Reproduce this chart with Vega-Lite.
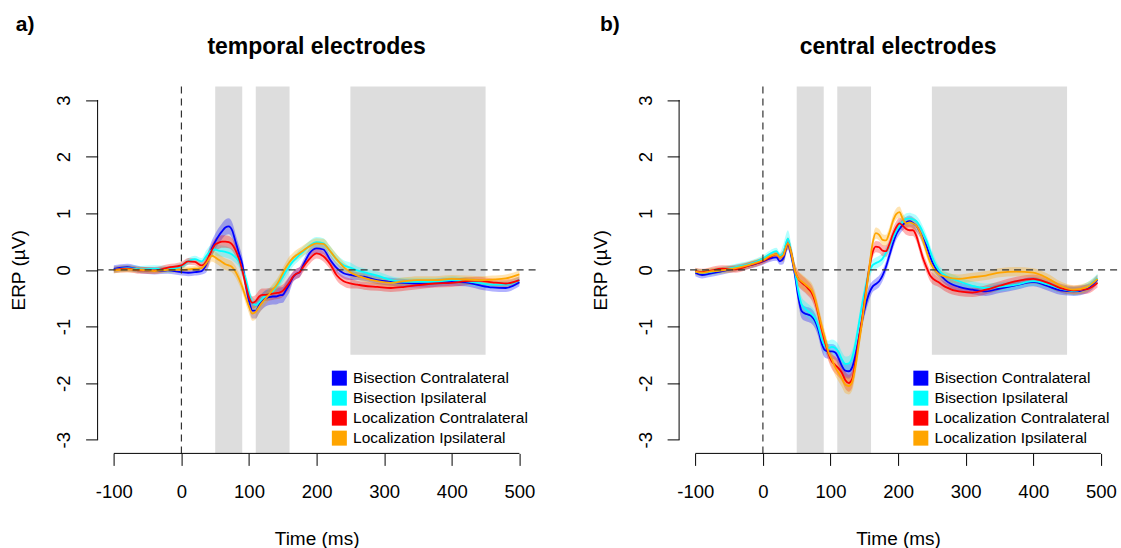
{
"$schema": "https://vega.github.io/schema/vega-lite/v6.json",
"padding": {"left": 8.6, "top": 14.4, "right": 0, "bottom": 0},
"background": "white",
"config": {
  "view": {"stroke": null},
  "font": "Liberation Sans",
  "axis": {"domain": false, "grid": false, "ticks": true, "tickColor": "black", "tickSize": 12, "tickWidth": 1, "labelFont": "Liberation Sans", "labelFontSize": 18.5, "labelColor": "black", "titleFont": "Liberation Sans", "titleFontSize": 19, "titleFontWeight": "normal", "titleColor": "black", "labelFlush": false, "labelOverlap": false, "labelExpr": "'' + datum.value"}
},
"datasets": {
"windows": [
 {"start": 50, "end": 90, "low": -3.24, "high": 3.24},
 {"start": 110, "end": 160, "low": -3.24, "high": 3.24},
 {"start": 250, "end": 450, "low": -1.5, "high": 3.24}
],
"erp_a": [
{"condition":"Bisection Contralateral","t":-100,"v":0.02,"lo":-0.04,"hi":0.08},
{"condition":"Bisection Contralateral","t":-80,"v":0.05,"lo":-0.01,"hi":0.11},
{"condition":"Bisection Contralateral","t":-60,"v":0.0,"lo":-0.06,"hi":0.06},
{"condition":"Bisection Contralateral","t":-40,"v":-0.02,"lo":-0.08,"hi":0.04},
{"condition":"Bisection Contralateral","t":-20,"v":-0.01,"lo":-0.07,"hi":0.05},
{"condition":"Bisection Contralateral","t":0,"v":-0.04,"lo":-0.1,"hi":0.02},
{"condition":"Bisection Contralateral","t":10,"v":-0.05,"lo":-0.11,"hi":0.01},
{"condition":"Bisection Contralateral","t":20,"v":-0.04,"lo":-0.1,"hi":0.02},
{"condition":"Bisection Contralateral","t":30,"v":-0.02,"lo":-0.08,"hi":0.04},
{"condition":"Bisection Contralateral","t":37,"v":0.1,"lo":-0.04,"hi":0.24},
{"condition":"Bisection Contralateral","t":45,"v":0.38,"lo":0.24,"hi":0.52},
{"condition":"Bisection Contralateral","t":50,"v":0.5,"lo":0.36,"hi":0.64},
{"condition":"Bisection Contralateral","t":55,"v":0.6,"lo":0.46,"hi":0.74},
{"condition":"Bisection Contralateral","t":60,"v":0.68,"lo":0.54,"hi":0.82},
{"condition":"Bisection Contralateral","t":65,"v":0.75,"lo":0.61,"hi":0.89},
{"condition":"Bisection Contralateral","t":70,"v":0.77,"lo":0.63,"hi":0.91},
{"condition":"Bisection Contralateral","t":75,"v":0.7,"lo":0.56,"hi":0.84},
{"condition":"Bisection Contralateral","t":80,"v":0.5,"lo":0.36,"hi":0.64},
{"condition":"Bisection Contralateral","t":85,"v":0.3,"lo":0.16,"hi":0.44},
{"condition":"Bisection Contralateral","t":90,"v":0.1,"lo":-0.04,"hi":0.24},
{"condition":"Bisection Contralateral","t":95,"v":-0.25,"lo":-0.39,"hi":-0.11},
{"condition":"Bisection Contralateral","t":100,"v":-0.55,"lo":-0.69,"hi":-0.41},
{"condition":"Bisection Contralateral","t":105,"v":-0.72,"lo":-0.86,"hi":-0.58},
{"condition":"Bisection Contralateral","t":110,"v":-0.72,"lo":-0.86,"hi":-0.58},
{"condition":"Bisection Contralateral","t":115,"v":-0.62,"lo":-0.76,"hi":-0.48},
{"condition":"Bisection Contralateral","t":120,"v":-0.55,"lo":-0.69,"hi":-0.41},
{"condition":"Bisection Contralateral","t":125,"v":-0.5,"lo":-0.64,"hi":-0.36},
{"condition":"Bisection Contralateral","t":130,"v":-0.48,"lo":-0.62,"hi":-0.34},
{"condition":"Bisection Contralateral","t":135,"v":-0.47,"lo":-0.61,"hi":-0.33},
{"condition":"Bisection Contralateral","t":140,"v":-0.47,"lo":-0.61,"hi":-0.33},
{"condition":"Bisection Contralateral","t":145,"v":-0.45,"lo":-0.59,"hi":-0.31},
{"condition":"Bisection Contralateral","t":150,"v":-0.44,"lo":-0.58,"hi":-0.3},
{"condition":"Bisection Contralateral","t":155,"v":-0.35,"lo":-0.49,"hi":-0.21},
{"condition":"Bisection Contralateral","t":160,"v":-0.25,"lo":-0.39,"hi":-0.11},
{"condition":"Bisection Contralateral","t":165,"v":-0.13,"lo":-0.22,"hi":-0.04},
{"condition":"Bisection Contralateral","t":170,"v":-0.07,"lo":-0.16,"hi":0.02},
{"condition":"Bisection Contralateral","t":175,"v":-0.04,"lo":-0.13,"hi":0.05},
{"condition":"Bisection Contralateral","t":180,"v":0.08,"lo":-0.01,"hi":0.17},
{"condition":"Bisection Contralateral","t":190,"v":0.3,"lo":0.21,"hi":0.39},
{"condition":"Bisection Contralateral","t":200,"v":0.38,"lo":0.29,"hi":0.47},
{"condition":"Bisection Contralateral","t":210,"v":0.36,"lo":0.27,"hi":0.45},
{"condition":"Bisection Contralateral","t":220,"v":0.18,"lo":0.09,"hi":0.27},
{"condition":"Bisection Contralateral","t":230,"v":0.03,"lo":-0.06,"hi":0.12},
{"condition":"Bisection Contralateral","t":240,"v":-0.06,"lo":-0.15,"hi":0.03},
{"condition":"Bisection Contralateral","t":250,"v":-0.09,"lo":-0.18,"hi":0.0},
{"condition":"Bisection Contralateral","t":260,"v":-0.11,"lo":-0.18,"hi":-0.04},
{"condition":"Bisection Contralateral","t":270,"v":-0.12,"lo":-0.19,"hi":-0.05},
{"condition":"Bisection Contralateral","t":290,"v":-0.18,"lo":-0.25,"hi":-0.11},
{"condition":"Bisection Contralateral","t":310,"v":-0.21,"lo":-0.28,"hi":-0.14},
{"condition":"Bisection Contralateral","t":330,"v":-0.23,"lo":-0.3,"hi":-0.16},
{"condition":"Bisection Contralateral","t":350,"v":-0.24,"lo":-0.31,"hi":-0.17},
{"condition":"Bisection Contralateral","t":375,"v":-0.23,"lo":-0.3,"hi":-0.16},
{"condition":"Bisection Contralateral","t":400,"v":-0.21,"lo":-0.28,"hi":-0.14},
{"condition":"Bisection Contralateral","t":420,"v":-0.22,"lo":-0.29,"hi":-0.15},
{"condition":"Bisection Contralateral","t":440,"v":-0.27,"lo":-0.34,"hi":-0.2},
{"condition":"Bisection Contralateral","t":460,"v":-0.31,"lo":-0.38,"hi":-0.24},
{"condition":"Bisection Contralateral","t":480,"v":-0.32,"lo":-0.39,"hi":-0.25},
{"condition":"Bisection Contralateral","t":500,"v":-0.22,"lo":-0.29,"hi":-0.15},
{"condition":"Bisection Ipsilateral","t":-100,"v":0.0,"lo":-0.06,"hi":0.06},
{"condition":"Bisection Ipsilateral","t":-80,"v":0.03,"lo":-0.03,"hi":0.09},
{"condition":"Bisection Ipsilateral","t":-60,"v":0.01,"lo":-0.05,"hi":0.07},
{"condition":"Bisection Ipsilateral","t":-40,"v":0.02,"lo":-0.04,"hi":0.08},
{"condition":"Bisection Ipsilateral","t":-20,"v":0.01,"lo":-0.05,"hi":0.07},
{"condition":"Bisection Ipsilateral","t":0,"v":0.06,"lo":0.0,"hi":0.12},
{"condition":"Bisection Ipsilateral","t":10,"v":0.15,"lo":0.09,"hi":0.21},
{"condition":"Bisection Ipsilateral","t":20,"v":0.19,"lo":0.13,"hi":0.25},
{"condition":"Bisection Ipsilateral","t":30,"v":0.15,"lo":0.09,"hi":0.21},
{"condition":"Bisection Ipsilateral","t":37,"v":0.25,"lo":0.15,"hi":0.35},
{"condition":"Bisection Ipsilateral","t":45,"v":0.35,"lo":0.25,"hi":0.45},
{"condition":"Bisection Ipsilateral","t":50,"v":0.36,"lo":0.26,"hi":0.46},
{"condition":"Bisection Ipsilateral","t":55,"v":0.34,"lo":0.24,"hi":0.44},
{"condition":"Bisection Ipsilateral","t":60,"v":0.33,"lo":0.23,"hi":0.43},
{"condition":"Bisection Ipsilateral","t":65,"v":0.32,"lo":0.22,"hi":0.42},
{"condition":"Bisection Ipsilateral","t":70,"v":0.3,"lo":0.2,"hi":0.4},
{"condition":"Bisection Ipsilateral","t":75,"v":0.27,"lo":0.17,"hi":0.37},
{"condition":"Bisection Ipsilateral","t":80,"v":0.22,"lo":0.12,"hi":0.32},
{"condition":"Bisection Ipsilateral","t":85,"v":0.15,"lo":0.05,"hi":0.25},
{"condition":"Bisection Ipsilateral","t":90,"v":0.0,"lo":-0.1,"hi":0.1},
{"condition":"Bisection Ipsilateral","t":95,"v":-0.15,"lo":-0.25,"hi":-0.05},
{"condition":"Bisection Ipsilateral","t":100,"v":-0.4,"lo":-0.5,"hi":-0.3},
{"condition":"Bisection Ipsilateral","t":105,"v":-0.58,"lo":-0.68,"hi":-0.48},
{"condition":"Bisection Ipsilateral","t":110,"v":-0.62,"lo":-0.72,"hi":-0.52},
{"condition":"Bisection Ipsilateral","t":115,"v":-0.57,"lo":-0.67,"hi":-0.47},
{"condition":"Bisection Ipsilateral","t":120,"v":-0.5,"lo":-0.6,"hi":-0.4},
{"condition":"Bisection Ipsilateral","t":125,"v":-0.45,"lo":-0.55,"hi":-0.35},
{"condition":"Bisection Ipsilateral","t":130,"v":-0.42,"lo":-0.52,"hi":-0.32},
{"condition":"Bisection Ipsilateral","t":135,"v":-0.38,"lo":-0.48,"hi":-0.28},
{"condition":"Bisection Ipsilateral","t":140,"v":-0.3,"lo":-0.4,"hi":-0.2},
{"condition":"Bisection Ipsilateral","t":145,"v":-0.22,"lo":-0.32,"hi":-0.12},
{"condition":"Bisection Ipsilateral","t":150,"v":-0.12,"lo":-0.22,"hi":-0.02},
{"condition":"Bisection Ipsilateral","t":155,"v":-0.02,"lo":-0.12,"hi":0.08},
{"condition":"Bisection Ipsilateral","t":160,"v":0.07,"lo":-0.03,"hi":0.17},
{"condition":"Bisection Ipsilateral","t":165,"v":0.15,"lo":0.06,"hi":0.24},
{"condition":"Bisection Ipsilateral","t":170,"v":0.21,"lo":0.12,"hi":0.3},
{"condition":"Bisection Ipsilateral","t":175,"v":0.27,"lo":0.18,"hi":0.36},
{"condition":"Bisection Ipsilateral","t":180,"v":0.32,"lo":0.23,"hi":0.41},
{"condition":"Bisection Ipsilateral","t":190,"v":0.43,"lo":0.34,"hi":0.52},
{"condition":"Bisection Ipsilateral","t":200,"v":0.49,"lo":0.4,"hi":0.58},
{"condition":"Bisection Ipsilateral","t":210,"v":0.47,"lo":0.38,"hi":0.56},
{"condition":"Bisection Ipsilateral","t":220,"v":0.33,"lo":0.24,"hi":0.42},
{"condition":"Bisection Ipsilateral","t":230,"v":0.18,"lo":0.09,"hi":0.27},
{"condition":"Bisection Ipsilateral","t":240,"v":0.08,"lo":-0.01,"hi":0.17},
{"condition":"Bisection Ipsilateral","t":250,"v":0.04,"lo":-0.05,"hi":0.13},
{"condition":"Bisection Ipsilateral","t":260,"v":-0.01,"lo":-0.08,"hi":0.06},
{"condition":"Bisection Ipsilateral","t":270,"v":-0.04,"lo":-0.11,"hi":0.03},
{"condition":"Bisection Ipsilateral","t":290,"v":-0.1,"lo":-0.17,"hi":-0.03},
{"condition":"Bisection Ipsilateral","t":310,"v":-0.18,"lo":-0.25,"hi":-0.11},
{"condition":"Bisection Ipsilateral","t":330,"v":-0.21,"lo":-0.28,"hi":-0.14},
{"condition":"Bisection Ipsilateral","t":350,"v":-0.21,"lo":-0.28,"hi":-0.14},
{"condition":"Bisection Ipsilateral","t":375,"v":-0.21,"lo":-0.28,"hi":-0.14},
{"condition":"Bisection Ipsilateral","t":400,"v":-0.18,"lo":-0.25,"hi":-0.11},
{"condition":"Bisection Ipsilateral","t":420,"v":-0.2,"lo":-0.27,"hi":-0.13},
{"condition":"Bisection Ipsilateral","t":440,"v":-0.23,"lo":-0.3,"hi":-0.16},
{"condition":"Bisection Ipsilateral","t":460,"v":-0.26,"lo":-0.33,"hi":-0.19},
{"condition":"Bisection Ipsilateral","t":480,"v":-0.26,"lo":-0.33,"hi":-0.19},
{"condition":"Bisection Ipsilateral","t":500,"v":-0.18,"lo":-0.25,"hi":-0.11},
{"condition":"Localization Contralateral","t":-100,"v":0.0,"lo":-0.06,"hi":0.06},
{"condition":"Localization Contralateral","t":-80,"v":0.02,"lo":-0.04,"hi":0.08},
{"condition":"Localization Contralateral","t":-60,"v":-0.01,"lo":-0.07,"hi":0.05},
{"condition":"Localization Contralateral","t":-40,"v":-0.01,"lo":-0.07,"hi":0.05},
{"condition":"Localization Contralateral","t":-20,"v":0.04,"lo":-0.02,"hi":0.1},
{"condition":"Localization Contralateral","t":0,"v":0.08,"lo":0.02,"hi":0.14},
{"condition":"Localization Contralateral","t":10,"v":0.15,"lo":0.09,"hi":0.21},
{"condition":"Localization Contralateral","t":20,"v":0.14,"lo":0.08,"hi":0.2},
{"condition":"Localization Contralateral","t":30,"v":0.08,"lo":0.02,"hi":0.14},
{"condition":"Localization Contralateral","t":37,"v":0.15,"lo":0.04,"hi":0.26},
{"condition":"Localization Contralateral","t":45,"v":0.35,"lo":0.24,"hi":0.46},
{"condition":"Localization Contralateral","t":50,"v":0.45,"lo":0.34,"hi":0.56},
{"condition":"Localization Contralateral","t":55,"v":0.48,"lo":0.37,"hi":0.59},
{"condition":"Localization Contralateral","t":60,"v":0.5,"lo":0.39,"hi":0.61},
{"condition":"Localization Contralateral","t":65,"v":0.5,"lo":0.39,"hi":0.61},
{"condition":"Localization Contralateral","t":70,"v":0.49,"lo":0.38,"hi":0.6},
{"condition":"Localization Contralateral","t":75,"v":0.45,"lo":0.34,"hi":0.56},
{"condition":"Localization Contralateral","t":80,"v":0.35,"lo":0.24,"hi":0.46},
{"condition":"Localization Contralateral","t":85,"v":0.2,"lo":0.09,"hi":0.31},
{"condition":"Localization Contralateral","t":90,"v":0.0,"lo":-0.11,"hi":0.11},
{"condition":"Localization Contralateral","t":95,"v":-0.25,"lo":-0.36,"hi":-0.14},
{"condition":"Localization Contralateral","t":100,"v":-0.48,"lo":-0.59,"hi":-0.37},
{"condition":"Localization Contralateral","t":105,"v":-0.58,"lo":-0.69,"hi":-0.47},
{"condition":"Localization Contralateral","t":110,"v":-0.55,"lo":-0.66,"hi":-0.44},
{"condition":"Localization Contralateral","t":115,"v":-0.47,"lo":-0.58,"hi":-0.36},
{"condition":"Localization Contralateral","t":120,"v":-0.44,"lo":-0.55,"hi":-0.33},
{"condition":"Localization Contralateral","t":125,"v":-0.44,"lo":-0.55,"hi":-0.33},
{"condition":"Localization Contralateral","t":130,"v":-0.43,"lo":-0.54,"hi":-0.32},
{"condition":"Localization Contralateral","t":135,"v":-0.42,"lo":-0.53,"hi":-0.31},
{"condition":"Localization Contralateral","t":140,"v":-0.41,"lo":-0.52,"hi":-0.3},
{"condition":"Localization Contralateral","t":145,"v":-0.4,"lo":-0.51,"hi":-0.29},
{"condition":"Localization Contralateral","t":150,"v":-0.37,"lo":-0.48,"hi":-0.26},
{"condition":"Localization Contralateral","t":155,"v":-0.3,"lo":-0.41,"hi":-0.19},
{"condition":"Localization Contralateral","t":160,"v":-0.22,"lo":-0.33,"hi":-0.11},
{"condition":"Localization Contralateral","t":165,"v":-0.12,"lo":-0.21,"hi":-0.03},
{"condition":"Localization Contralateral","t":170,"v":-0.07,"lo":-0.16,"hi":0.02},
{"condition":"Localization Contralateral","t":175,"v":-0.04,"lo":-0.13,"hi":0.05},
{"condition":"Localization Contralateral","t":180,"v":0.05,"lo":-0.04,"hi":0.14},
{"condition":"Localization Contralateral","t":190,"v":0.2,"lo":0.11,"hi":0.29},
{"condition":"Localization Contralateral","t":200,"v":0.29,"lo":0.2,"hi":0.38},
{"condition":"Localization Contralateral","t":210,"v":0.24,"lo":0.15,"hi":0.33},
{"condition":"Localization Contralateral","t":220,"v":0.1,"lo":0.01,"hi":0.19},
{"condition":"Localization Contralateral","t":230,"v":-0.1,"lo":-0.19,"hi":-0.01},
{"condition":"Localization Contralateral","t":240,"v":-0.2,"lo":-0.29,"hi":-0.11},
{"condition":"Localization Contralateral","t":250,"v":-0.24,"lo":-0.33,"hi":-0.15},
{"condition":"Localization Contralateral","t":260,"v":-0.26,"lo":-0.33,"hi":-0.19},
{"condition":"Localization Contralateral","t":270,"v":-0.28,"lo":-0.35,"hi":-0.21},
{"condition":"Localization Contralateral","t":290,"v":-0.3,"lo":-0.37,"hi":-0.23},
{"condition":"Localization Contralateral","t":310,"v":-0.32,"lo":-0.39,"hi":-0.25},
{"condition":"Localization Contralateral","t":330,"v":-0.3,"lo":-0.37,"hi":-0.23},
{"condition":"Localization Contralateral","t":350,"v":-0.27,"lo":-0.34,"hi":-0.2},
{"condition":"Localization Contralateral","t":375,"v":-0.24,"lo":-0.31,"hi":-0.17},
{"condition":"Localization Contralateral","t":400,"v":-0.23,"lo":-0.3,"hi":-0.16},
{"condition":"Localization Contralateral","t":420,"v":-0.2,"lo":-0.27,"hi":-0.13},
{"condition":"Localization Contralateral","t":440,"v":-0.19,"lo":-0.26,"hi":-0.12},
{"condition":"Localization Contralateral","t":460,"v":-0.22,"lo":-0.29,"hi":-0.15},
{"condition":"Localization Contralateral","t":480,"v":-0.24,"lo":-0.31,"hi":-0.17},
{"condition":"Localization Contralateral","t":500,"v":-0.18,"lo":-0.25,"hi":-0.11},
{"condition":"Localization Ipsilateral","t":-100,"v":-0.01,"lo":-0.06,"hi":0.04},
{"condition":"Localization Ipsilateral","t":-80,"v":0.01,"lo":-0.04,"hi":0.06},
{"condition":"Localization Ipsilateral","t":-60,"v":0.0,"lo":-0.05,"hi":0.05},
{"condition":"Localization Ipsilateral","t":-40,"v":-0.02,"lo":-0.07,"hi":0.03},
{"condition":"Localization Ipsilateral","t":-20,"v":0.0,"lo":-0.05,"hi":0.05},
{"condition":"Localization Ipsilateral","t":0,"v":0.0,"lo":-0.05,"hi":0.05},
{"condition":"Localization Ipsilateral","t":10,"v":0.01,"lo":-0.04,"hi":0.06},
{"condition":"Localization Ipsilateral","t":20,"v":0.02,"lo":-0.03,"hi":0.07},
{"condition":"Localization Ipsilateral","t":30,"v":0.03,"lo":-0.02,"hi":0.08},
{"condition":"Localization Ipsilateral","t":37,"v":0.12,"lo":0.02,"hi":0.22},
{"condition":"Localization Ipsilateral","t":45,"v":0.25,"lo":0.15,"hi":0.35},
{"condition":"Localization Ipsilateral","t":50,"v":0.22,"lo":0.12,"hi":0.32},
{"condition":"Localization Ipsilateral","t":55,"v":0.18,"lo":0.08,"hi":0.28},
{"condition":"Localization Ipsilateral","t":60,"v":0.14,"lo":0.04,"hi":0.24},
{"condition":"Localization Ipsilateral","t":65,"v":0.1,"lo":0.0,"hi":0.2},
{"condition":"Localization Ipsilateral","t":70,"v":0.08,"lo":-0.02,"hi":0.18},
{"condition":"Localization Ipsilateral","t":75,"v":0.05,"lo":-0.05,"hi":0.15},
{"condition":"Localization Ipsilateral","t":80,"v":-0.03,"lo":-0.13,"hi":0.07},
{"condition":"Localization Ipsilateral","t":85,"v":-0.15,"lo":-0.25,"hi":-0.05},
{"condition":"Localization Ipsilateral","t":90,"v":-0.3,"lo":-0.4,"hi":-0.2},
{"condition":"Localization Ipsilateral","t":95,"v":-0.48,"lo":-0.59,"hi":-0.37},
{"condition":"Localization Ipsilateral","t":100,"v":-0.65,"lo":-0.77,"hi":-0.53},
{"condition":"Localization Ipsilateral","t":105,"v":-0.77,"lo":-0.9,"hi":-0.64},
{"condition":"Localization Ipsilateral","t":110,"v":-0.74,"lo":-0.87,"hi":-0.61},
{"condition":"Localization Ipsilateral","t":115,"v":-0.65,"lo":-0.77,"hi":-0.53},
{"condition":"Localization Ipsilateral","t":120,"v":-0.57,"lo":-0.68,"hi":-0.46},
{"condition":"Localization Ipsilateral","t":125,"v":-0.5,"lo":-0.6,"hi":-0.4},
{"condition":"Localization Ipsilateral","t":130,"v":-0.43,"lo":-0.53,"hi":-0.33},
{"condition":"Localization Ipsilateral","t":135,"v":-0.35,"lo":-0.45,"hi":-0.25},
{"condition":"Localization Ipsilateral","t":140,"v":-0.28,"lo":-0.38,"hi":-0.18},
{"condition":"Localization Ipsilateral","t":145,"v":-0.18,"lo":-0.28,"hi":-0.08},
{"condition":"Localization Ipsilateral","t":150,"v":-0.06,"lo":-0.16,"hi":0.04},
{"condition":"Localization Ipsilateral","t":155,"v":0.05,"lo":-0.05,"hi":0.15},
{"condition":"Localization Ipsilateral","t":160,"v":0.14,"lo":0.04,"hi":0.24},
{"condition":"Localization Ipsilateral","t":165,"v":0.21,"lo":0.12,"hi":0.3},
{"condition":"Localization Ipsilateral","t":170,"v":0.26,"lo":0.17,"hi":0.35},
{"condition":"Localization Ipsilateral","t":175,"v":0.3,"lo":0.21,"hi":0.39},
{"condition":"Localization Ipsilateral","t":180,"v":0.34,"lo":0.25,"hi":0.43},
{"condition":"Localization Ipsilateral","t":190,"v":0.42,"lo":0.33,"hi":0.51},
{"condition":"Localization Ipsilateral","t":200,"v":0.47,"lo":0.38,"hi":0.56},
{"condition":"Localization Ipsilateral","t":210,"v":0.46,"lo":0.37,"hi":0.55},
{"condition":"Localization Ipsilateral","t":220,"v":0.33,"lo":0.24,"hi":0.42},
{"condition":"Localization Ipsilateral","t":230,"v":0.18,"lo":0.09,"hi":0.27},
{"condition":"Localization Ipsilateral","t":240,"v":0.05,"lo":-0.04,"hi":0.14},
{"condition":"Localization Ipsilateral","t":250,"v":-0.04,"lo":-0.13,"hi":0.05},
{"condition":"Localization Ipsilateral","t":260,"v":-0.1,"lo":-0.17,"hi":-0.03},
{"condition":"Localization Ipsilateral","t":270,"v":-0.14,"lo":-0.21,"hi":-0.07},
{"condition":"Localization Ipsilateral","t":290,"v":-0.2,"lo":-0.27,"hi":-0.13},
{"condition":"Localization Ipsilateral","t":310,"v":-0.23,"lo":-0.3,"hi":-0.16},
{"condition":"Localization Ipsilateral","t":330,"v":-0.2,"lo":-0.27,"hi":-0.13},
{"condition":"Localization Ipsilateral","t":350,"v":-0.18,"lo":-0.25,"hi":-0.11},
{"condition":"Localization Ipsilateral","t":375,"v":-0.18,"lo":-0.25,"hi":-0.11},
{"condition":"Localization Ipsilateral","t":400,"v":-0.16,"lo":-0.23,"hi":-0.09},
{"condition":"Localization Ipsilateral","t":420,"v":-0.17,"lo":-0.24,"hi":-0.1},
{"condition":"Localization Ipsilateral","t":440,"v":-0.18,"lo":-0.25,"hi":-0.11},
{"condition":"Localization Ipsilateral","t":460,"v":-0.17,"lo":-0.24,"hi":-0.1},
{"condition":"Localization Ipsilateral","t":480,"v":-0.15,"lo":-0.22,"hi":-0.08},
{"condition":"Localization Ipsilateral","t":500,"v":-0.08,"lo":-0.15,"hi":-0.01}
],
"erp_b": [
{"condition":"Bisection Contralateral","t":-100,"v":-0.05,"lo":-0.11,"hi":0.01},
{"condition":"Bisection Contralateral","t":-90,"v":-0.09,"lo":-0.15,"hi":-0.03},
{"condition":"Bisection Contralateral","t":-80,"v":-0.07,"lo":-0.13,"hi":-0.01},
{"condition":"Bisection Contralateral","t":-60,"v":-0.02,"lo":-0.08,"hi":0.04},
{"condition":"Bisection Contralateral","t":-40,"v":0.03,"lo":-0.03,"hi":0.09},
{"condition":"Bisection Contralateral","t":-20,"v":0.08,"lo":0.02,"hi":0.14},
{"condition":"Bisection Contralateral","t":0,"v":0.15,"lo":0.09,"hi":0.21},
{"condition":"Bisection Contralateral","t":10,"v":0.2,"lo":0.14,"hi":0.26},
{"condition":"Bisection Contralateral","t":20,"v":0.22,"lo":0.16,"hi":0.28},
{"condition":"Bisection Contralateral","t":25,"v":0.15,"lo":0.09,"hi":0.21},
{"condition":"Bisection Contralateral","t":30,"v":0.2,"lo":0.1,"hi":0.3},
{"condition":"Bisection Contralateral","t":37,"v":0.45,"lo":0.35,"hi":0.55},
{"condition":"Bisection Contralateral","t":42,"v":0.25,"lo":0.15,"hi":0.35},
{"condition":"Bisection Contralateral","t":47,"v":-0.05,"lo":-0.18,"hi":0.08},
{"condition":"Bisection Contralateral","t":52,"v":-0.45,"lo":-0.58,"hi":-0.32},
{"condition":"Bisection Contralateral","t":57,"v":-0.72,"lo":-0.85,"hi":-0.59},
{"condition":"Bisection Contralateral","t":62,"v":-0.77,"lo":-0.9,"hi":-0.64},
{"condition":"Bisection Contralateral","t":67,"v":-0.79,"lo":-0.92,"hi":-0.66},
{"condition":"Bisection Contralateral","t":72,"v":-0.82,"lo":-0.95,"hi":-0.69},
{"condition":"Bisection Contralateral","t":77,"v":-0.9,"lo":-1.03,"hi":-0.77},
{"condition":"Bisection Contralateral","t":82,"v":-1.06,"lo":-1.19,"hi":-0.93},
{"condition":"Bisection Contralateral","t":87,"v":-1.3,"lo":-1.43,"hi":-1.17},
{"condition":"Bisection Contralateral","t":92,"v":-1.42,"lo":-1.55,"hi":-1.29},
{"condition":"Bisection Contralateral","t":97,"v":-1.44,"lo":-1.57,"hi":-1.31},
{"condition":"Bisection Contralateral","t":102,"v":-1.44,"lo":-1.57,"hi":-1.31},
{"condition":"Bisection Contralateral","t":107,"v":-1.46,"lo":-1.59,"hi":-1.33},
{"condition":"Bisection Contralateral","t":112,"v":-1.56,"lo":-1.69,"hi":-1.43},
{"condition":"Bisection Contralateral","t":117,"v":-1.7,"lo":-1.83,"hi":-1.57},
{"condition":"Bisection Contralateral","t":122,"v":-1.78,"lo":-1.91,"hi":-1.65},
{"condition":"Bisection Contralateral","t":127,"v":-1.79,"lo":-1.92,"hi":-1.66},
{"condition":"Bisection Contralateral","t":132,"v":-1.72,"lo":-1.85,"hi":-1.59},
{"condition":"Bisection Contralateral","t":137,"v":-1.5,"lo":-1.63,"hi":-1.37},
{"condition":"Bisection Contralateral","t":142,"v":-1.2,"lo":-1.33,"hi":-1.07},
{"condition":"Bisection Contralateral","t":147,"v":-0.88,"lo":-1.01,"hi":-0.75},
{"condition":"Bisection Contralateral","t":152,"v":-0.62,"lo":-0.75,"hi":-0.49},
{"condition":"Bisection Contralateral","t":157,"v":-0.42,"lo":-0.55,"hi":-0.29},
{"condition":"Bisection Contralateral","t":162,"v":-0.3,"lo":-0.4,"hi":-0.2},
{"condition":"Bisection Contralateral","t":167,"v":-0.25,"lo":-0.35,"hi":-0.15},
{"condition":"Bisection Contralateral","t":172,"v":-0.2,"lo":-0.3,"hi":-0.1},
{"condition":"Bisection Contralateral","t":177,"v":-0.1,"lo":-0.2,"hi":0.0},
{"condition":"Bisection Contralateral","t":182,"v":0.05,"lo":-0.05,"hi":0.15},
{"condition":"Bisection Contralateral","t":187,"v":0.25,"lo":0.15,"hi":0.35},
{"condition":"Bisection Contralateral","t":192,"v":0.45,"lo":0.35,"hi":0.55},
{"condition":"Bisection Contralateral","t":197,"v":0.62,"lo":0.52,"hi":0.72},
{"condition":"Bisection Contralateral","t":202,"v":0.72,"lo":0.62,"hi":0.82},
{"condition":"Bisection Contralateral","t":207,"v":0.8,"lo":0.7,"hi":0.9},
{"condition":"Bisection Contralateral","t":212,"v":0.84,"lo":0.74,"hi":0.94},
{"condition":"Bisection Contralateral","t":217,"v":0.86,"lo":0.76,"hi":0.96},
{"condition":"Bisection Contralateral","t":222,"v":0.83,"lo":0.73,"hi":0.93},
{"condition":"Bisection Contralateral","t":227,"v":0.78,"lo":0.68,"hi":0.88},
{"condition":"Bisection Contralateral","t":232,"v":0.68,"lo":0.58,"hi":0.78},
{"condition":"Bisection Contralateral","t":237,"v":0.55,"lo":0.45,"hi":0.65},
{"condition":"Bisection Contralateral","t":242,"v":0.42,"lo":0.32,"hi":0.52},
{"condition":"Bisection Contralateral","t":247,"v":0.25,"lo":0.15,"hi":0.35},
{"condition":"Bisection Contralateral","t":252,"v":0.1,"lo":0.0,"hi":0.2},
{"condition":"Bisection Contralateral","t":260,"v":-0.05,"lo":-0.13,"hi":0.03},
{"condition":"Bisection Contralateral","t":270,"v":-0.18,"lo":-0.26,"hi":-0.1},
{"condition":"Bisection Contralateral","t":290,"v":-0.3,"lo":-0.38,"hi":-0.22},
{"condition":"Bisection Contralateral","t":310,"v":-0.35,"lo":-0.43,"hi":-0.27},
{"condition":"Bisection Contralateral","t":330,"v":-0.38,"lo":-0.46,"hi":-0.3},
{"condition":"Bisection Contralateral","t":350,"v":-0.33,"lo":-0.41,"hi":-0.25},
{"condition":"Bisection Contralateral","t":375,"v":-0.27,"lo":-0.35,"hi":-0.19},
{"condition":"Bisection Contralateral","t":400,"v":-0.21,"lo":-0.29,"hi":-0.13},
{"condition":"Bisection Contralateral","t":420,"v":-0.28,"lo":-0.36,"hi":-0.2},
{"condition":"Bisection Contralateral","t":440,"v":-0.36,"lo":-0.44,"hi":-0.28},
{"condition":"Bisection Contralateral","t":460,"v":-0.38,"lo":-0.46,"hi":-0.3},
{"condition":"Bisection Contralateral","t":480,"v":-0.33,"lo":-0.41,"hi":-0.25},
{"condition":"Bisection Contralateral","t":495,"v":-0.17,"lo":-0.25,"hi":-0.09},
{"condition":"Bisection Ipsilateral","t":-100,"v":-0.03,"lo":-0.09,"hi":0.03},
{"condition":"Bisection Ipsilateral","t":-90,"v":-0.05,"lo":-0.11,"hi":0.01},
{"condition":"Bisection Ipsilateral","t":-80,"v":-0.04,"lo":-0.1,"hi":0.02},
{"condition":"Bisection Ipsilateral","t":-60,"v":0.0,"lo":-0.06,"hi":0.06},
{"condition":"Bisection Ipsilateral","t":-40,"v":0.05,"lo":-0.01,"hi":0.11},
{"condition":"Bisection Ipsilateral","t":-20,"v":0.1,"lo":0.04,"hi":0.16},
{"condition":"Bisection Ipsilateral","t":0,"v":0.2,"lo":0.14,"hi":0.26},
{"condition":"Bisection Ipsilateral","t":10,"v":0.28,"lo":0.22,"hi":0.34},
{"condition":"Bisection Ipsilateral","t":20,"v":0.33,"lo":0.27,"hi":0.39},
{"condition":"Bisection Ipsilateral","t":25,"v":0.25,"lo":0.19,"hi":0.31},
{"condition":"Bisection Ipsilateral","t":30,"v":0.3,"lo":0.15,"hi":0.45},
{"condition":"Bisection Ipsilateral","t":37,"v":0.55,"lo":0.4,"hi":0.7},
{"condition":"Bisection Ipsilateral","t":42,"v":0.3,"lo":0.15,"hi":0.45},
{"condition":"Bisection Ipsilateral","t":47,"v":0.0,"lo":-0.13,"hi":0.13},
{"condition":"Bisection Ipsilateral","t":52,"v":-0.35,"lo":-0.48,"hi":-0.22},
{"condition":"Bisection Ipsilateral","t":57,"v":-0.6,"lo":-0.73,"hi":-0.47},
{"condition":"Bisection Ipsilateral","t":62,"v":-0.68,"lo":-0.81,"hi":-0.55},
{"condition":"Bisection Ipsilateral","t":67,"v":-0.73,"lo":-0.86,"hi":-0.6},
{"condition":"Bisection Ipsilateral","t":72,"v":-0.78,"lo":-0.91,"hi":-0.65},
{"condition":"Bisection Ipsilateral","t":77,"v":-0.85,"lo":-0.98,"hi":-0.72},
{"condition":"Bisection Ipsilateral","t":82,"v":-1.0,"lo":-1.13,"hi":-0.87},
{"condition":"Bisection Ipsilateral","t":87,"v":-1.22,"lo":-1.35,"hi":-1.09},
{"condition":"Bisection Ipsilateral","t":92,"v":-1.35,"lo":-1.48,"hi":-1.22},
{"condition":"Bisection Ipsilateral","t":97,"v":-1.38,"lo":-1.51,"hi":-1.25},
{"condition":"Bisection Ipsilateral","t":102,"v":-1.36,"lo":-1.49,"hi":-1.23},
{"condition":"Bisection Ipsilateral","t":107,"v":-1.38,"lo":-1.51,"hi":-1.25},
{"condition":"Bisection Ipsilateral","t":112,"v":-1.45,"lo":-1.58,"hi":-1.32},
{"condition":"Bisection Ipsilateral","t":117,"v":-1.58,"lo":-1.71,"hi":-1.45},
{"condition":"Bisection Ipsilateral","t":122,"v":-1.66,"lo":-1.79,"hi":-1.53},
{"condition":"Bisection Ipsilateral","t":127,"v":-1.65,"lo":-1.78,"hi":-1.52},
{"condition":"Bisection Ipsilateral","t":132,"v":-1.55,"lo":-1.68,"hi":-1.42},
{"condition":"Bisection Ipsilateral","t":137,"v":-1.3,"lo":-1.43,"hi":-1.17},
{"condition":"Bisection Ipsilateral","t":142,"v":-0.95,"lo":-1.08,"hi":-0.82},
{"condition":"Bisection Ipsilateral","t":147,"v":-0.6,"lo":-0.73,"hi":-0.47},
{"condition":"Bisection Ipsilateral","t":152,"v":-0.3,"lo":-0.43,"hi":-0.17},
{"condition":"Bisection Ipsilateral","t":157,"v":-0.05,"lo":-0.18,"hi":0.08},
{"condition":"Bisection Ipsilateral","t":162,"v":0.08,"lo":-0.02,"hi":0.18},
{"condition":"Bisection Ipsilateral","t":167,"v":0.12,"lo":0.02,"hi":0.22},
{"condition":"Bisection Ipsilateral","t":172,"v":0.15,"lo":0.05,"hi":0.25},
{"condition":"Bisection Ipsilateral","t":177,"v":0.2,"lo":0.1,"hi":0.3},
{"condition":"Bisection Ipsilateral","t":182,"v":0.3,"lo":0.2,"hi":0.4},
{"condition":"Bisection Ipsilateral","t":187,"v":0.42,"lo":0.32,"hi":0.52},
{"condition":"Bisection Ipsilateral","t":192,"v":0.55,"lo":0.45,"hi":0.65},
{"condition":"Bisection Ipsilateral","t":197,"v":0.68,"lo":0.58,"hi":0.78},
{"condition":"Bisection Ipsilateral","t":202,"v":0.78,"lo":0.68,"hi":0.88},
{"condition":"Bisection Ipsilateral","t":207,"v":0.85,"lo":0.75,"hi":0.95},
{"condition":"Bisection Ipsilateral","t":212,"v":0.9,"lo":0.8,"hi":1.0},
{"condition":"Bisection Ipsilateral","t":217,"v":0.91,"lo":0.81,"hi":1.01},
{"condition":"Bisection Ipsilateral","t":222,"v":0.89,"lo":0.79,"hi":0.99},
{"condition":"Bisection Ipsilateral","t":227,"v":0.86,"lo":0.76,"hi":0.96},
{"condition":"Bisection Ipsilateral","t":232,"v":0.78,"lo":0.68,"hi":0.88},
{"condition":"Bisection Ipsilateral","t":237,"v":0.66,"lo":0.56,"hi":0.76},
{"condition":"Bisection Ipsilateral","t":242,"v":0.52,"lo":0.42,"hi":0.62},
{"condition":"Bisection Ipsilateral","t":247,"v":0.35,"lo":0.25,"hi":0.45},
{"condition":"Bisection Ipsilateral","t":252,"v":0.18,"lo":0.08,"hi":0.28},
{"condition":"Bisection Ipsilateral","t":260,"v":0.0,"lo":-0.08,"hi":0.08},
{"condition":"Bisection Ipsilateral","t":270,"v":-0.1,"lo":-0.18,"hi":-0.02},
{"condition":"Bisection Ipsilateral","t":290,"v":-0.2,"lo":-0.28,"hi":-0.12},
{"condition":"Bisection Ipsilateral","t":310,"v":-0.28,"lo":-0.36,"hi":-0.2},
{"condition":"Bisection Ipsilateral","t":330,"v":-0.32,"lo":-0.4,"hi":-0.24},
{"condition":"Bisection Ipsilateral","t":350,"v":-0.3,"lo":-0.38,"hi":-0.22},
{"condition":"Bisection Ipsilateral","t":375,"v":-0.26,"lo":-0.34,"hi":-0.18},
{"condition":"Bisection Ipsilateral","t":400,"v":-0.2,"lo":-0.28,"hi":-0.12},
{"condition":"Bisection Ipsilateral","t":420,"v":-0.25,"lo":-0.33,"hi":-0.17},
{"condition":"Bisection Ipsilateral","t":440,"v":-0.33,"lo":-0.41,"hi":-0.25},
{"condition":"Bisection Ipsilateral","t":460,"v":-0.37,"lo":-0.45,"hi":-0.29},
{"condition":"Bisection Ipsilateral","t":480,"v":-0.3,"lo":-0.38,"hi":-0.22},
{"condition":"Bisection Ipsilateral","t":495,"v":-0.15,"lo":-0.23,"hi":-0.07},
{"condition":"Localization Contralateral","t":-100,"v":-0.02,"lo":-0.08,"hi":0.04},
{"condition":"Localization Contralateral","t":-90,"v":-0.04,"lo":-0.1,"hi":0.02},
{"condition":"Localization Contralateral","t":-80,"v":-0.02,"lo":-0.08,"hi":0.04},
{"condition":"Localization Contralateral","t":-60,"v":0.02,"lo":-0.04,"hi":0.08},
{"condition":"Localization Contralateral","t":-40,"v":0.01,"lo":-0.05,"hi":0.07},
{"condition":"Localization Contralateral","t":-20,"v":0.08,"lo":0.02,"hi":0.14},
{"condition":"Localization Contralateral","t":0,"v":0.16,"lo":0.1,"hi":0.22},
{"condition":"Localization Contralateral","t":10,"v":0.22,"lo":0.16,"hi":0.28},
{"condition":"Localization Contralateral","t":20,"v":0.28,"lo":0.22,"hi":0.34},
{"condition":"Localization Contralateral","t":25,"v":0.22,"lo":0.16,"hi":0.28},
{"condition":"Localization Contralateral","t":30,"v":0.25,"lo":0.15,"hi":0.35},
{"condition":"Localization Contralateral","t":37,"v":0.47,"lo":0.37,"hi":0.57},
{"condition":"Localization Contralateral","t":42,"v":0.3,"lo":0.2,"hi":0.4},
{"condition":"Localization Contralateral","t":47,"v":0.0,"lo":-0.13,"hi":0.13},
{"condition":"Localization Contralateral","t":52,"v":-0.15,"lo":-0.28,"hi":-0.02},
{"condition":"Localization Contralateral","t":57,"v":-0.22,"lo":-0.35,"hi":-0.09},
{"condition":"Localization Contralateral","t":62,"v":-0.27,"lo":-0.4,"hi":-0.14},
{"condition":"Localization Contralateral","t":67,"v":-0.33,"lo":-0.46,"hi":-0.2},
{"condition":"Localization Contralateral","t":72,"v":-0.4,"lo":-0.53,"hi":-0.27},
{"condition":"Localization Contralateral","t":77,"v":-0.55,"lo":-0.68,"hi":-0.42},
{"condition":"Localization Contralateral","t":82,"v":-0.78,"lo":-0.91,"hi":-0.65},
{"condition":"Localization Contralateral","t":87,"v":-1.05,"lo":-1.18,"hi":-0.92},
{"condition":"Localization Contralateral","t":92,"v":-1.28,"lo":-1.41,"hi":-1.15},
{"condition":"Localization Contralateral","t":97,"v":-1.48,"lo":-1.61,"hi":-1.35},
{"condition":"Localization Contralateral","t":102,"v":-1.62,"lo":-1.75,"hi":-1.49},
{"condition":"Localization Contralateral","t":107,"v":-1.68,"lo":-1.83,"hi":-1.53},
{"condition":"Localization Contralateral","t":112,"v":-1.74,"lo":-1.89,"hi":-1.59},
{"condition":"Localization Contralateral","t":117,"v":-1.82,"lo":-1.97,"hi":-1.67},
{"condition":"Localization Contralateral","t":122,"v":-1.95,"lo":-2.1,"hi":-1.8},
{"condition":"Localization Contralateral","t":127,"v":-2.0,"lo":-2.15,"hi":-1.85},
{"condition":"Localization Contralateral","t":132,"v":-1.93,"lo":-2.08,"hi":-1.78},
{"condition":"Localization Contralateral","t":137,"v":-1.62,"lo":-1.77,"hi":-1.47},
{"condition":"Localization Contralateral","t":142,"v":-1.22,"lo":-1.35,"hi":-1.09},
{"condition":"Localization Contralateral","t":147,"v":-0.85,"lo":-0.98,"hi":-0.72},
{"condition":"Localization Contralateral","t":152,"v":-0.4,"lo":-0.53,"hi":-0.27},
{"condition":"Localization Contralateral","t":157,"v":0.0,"lo":-0.13,"hi":0.13},
{"condition":"Localization Contralateral","t":162,"v":0.3,"lo":0.2,"hi":0.4},
{"condition":"Localization Contralateral","t":167,"v":0.41,"lo":0.31,"hi":0.51},
{"condition":"Localization Contralateral","t":172,"v":0.4,"lo":0.3,"hi":0.5},
{"condition":"Localization Contralateral","t":177,"v":0.34,"lo":0.24,"hi":0.44},
{"condition":"Localization Contralateral","t":182,"v":0.33,"lo":0.23,"hi":0.43},
{"condition":"Localization Contralateral","t":187,"v":0.45,"lo":0.35,"hi":0.55},
{"condition":"Localization Contralateral","t":192,"v":0.62,"lo":0.52,"hi":0.72},
{"condition":"Localization Contralateral","t":197,"v":0.75,"lo":0.65,"hi":0.85},
{"condition":"Localization Contralateral","t":202,"v":0.82,"lo":0.72,"hi":0.92},
{"condition":"Localization Contralateral","t":207,"v":0.78,"lo":0.68,"hi":0.88},
{"condition":"Localization Contralateral","t":212,"v":0.72,"lo":0.62,"hi":0.82},
{"condition":"Localization Contralateral","t":217,"v":0.7,"lo":0.6,"hi":0.8},
{"condition":"Localization Contralateral","t":222,"v":0.7,"lo":0.6,"hi":0.8},
{"condition":"Localization Contralateral","t":227,"v":0.6,"lo":0.5,"hi":0.7},
{"condition":"Localization Contralateral","t":232,"v":0.4,"lo":0.3,"hi":0.5},
{"condition":"Localization Contralateral","t":237,"v":0.2,"lo":0.1,"hi":0.3},
{"condition":"Localization Contralateral","t":242,"v":0.05,"lo":-0.05,"hi":0.15},
{"condition":"Localization Contralateral","t":247,"v":-0.09,"lo":-0.19,"hi":0.01},
{"condition":"Localization Contralateral","t":252,"v":-0.16,"lo":-0.26,"hi":-0.06},
{"condition":"Localization Contralateral","t":260,"v":-0.22,"lo":-0.3,"hi":-0.14},
{"condition":"Localization Contralateral","t":270,"v":-0.3,"lo":-0.38,"hi":-0.22},
{"condition":"Localization Contralateral","t":290,"v":-0.38,"lo":-0.46,"hi":-0.3},
{"condition":"Localization Contralateral","t":310,"v":-0.4,"lo":-0.48,"hi":-0.32},
{"condition":"Localization Contralateral","t":330,"v":-0.35,"lo":-0.43,"hi":-0.27},
{"condition":"Localization Contralateral","t":350,"v":-0.28,"lo":-0.36,"hi":-0.2},
{"condition":"Localization Contralateral","t":375,"v":-0.2,"lo":-0.28,"hi":-0.12},
{"condition":"Localization Contralateral","t":400,"v":-0.16,"lo":-0.24,"hi":-0.08},
{"condition":"Localization Contralateral","t":420,"v":-0.22,"lo":-0.3,"hi":-0.14},
{"condition":"Localization Contralateral","t":440,"v":-0.32,"lo":-0.4,"hi":-0.24},
{"condition":"Localization Contralateral","t":460,"v":-0.36,"lo":-0.44,"hi":-0.28},
{"condition":"Localization Contralateral","t":480,"v":-0.34,"lo":-0.42,"hi":-0.26},
{"condition":"Localization Contralateral","t":495,"v":-0.23,"lo":-0.31,"hi":-0.15},
{"condition":"Localization Ipsilateral","t":-100,"v":-0.03,"lo":-0.09,"hi":0.03},
{"condition":"Localization Ipsilateral","t":-90,"v":-0.05,"lo":-0.11,"hi":0.01},
{"condition":"Localization Ipsilateral","t":-80,"v":-0.03,"lo":-0.09,"hi":0.03},
{"condition":"Localization Ipsilateral","t":-60,"v":-0.01,"lo":-0.07,"hi":0.05},
{"condition":"Localization Ipsilateral","t":-40,"v":0.03,"lo":-0.03,"hi":0.09},
{"condition":"Localization Ipsilateral","t":-20,"v":0.09,"lo":0.03,"hi":0.15},
{"condition":"Localization Ipsilateral","t":0,"v":0.17,"lo":0.11,"hi":0.23},
{"condition":"Localization Ipsilateral","t":10,"v":0.24,"lo":0.18,"hi":0.3},
{"condition":"Localization Ipsilateral","t":20,"v":0.28,"lo":0.22,"hi":0.34},
{"condition":"Localization Ipsilateral","t":25,"v":0.22,"lo":0.16,"hi":0.28},
{"condition":"Localization Ipsilateral","t":30,"v":0.25,"lo":0.15,"hi":0.35},
{"condition":"Localization Ipsilateral","t":37,"v":0.47,"lo":0.37,"hi":0.57},
{"condition":"Localization Ipsilateral","t":42,"v":0.3,"lo":0.2,"hi":0.4},
{"condition":"Localization Ipsilateral","t":47,"v":0.0,"lo":-0.13,"hi":0.13},
{"condition":"Localization Ipsilateral","t":52,"v":-0.15,"lo":-0.28,"hi":-0.02},
{"condition":"Localization Ipsilateral","t":57,"v":-0.2,"lo":-0.33,"hi":-0.07},
{"condition":"Localization Ipsilateral","t":62,"v":-0.25,"lo":-0.38,"hi":-0.12},
{"condition":"Localization Ipsilateral","t":67,"v":-0.3,"lo":-0.43,"hi":-0.17},
{"condition":"Localization Ipsilateral","t":72,"v":-0.36,"lo":-0.49,"hi":-0.23},
{"condition":"Localization Ipsilateral","t":77,"v":-0.5,"lo":-0.63,"hi":-0.37},
{"condition":"Localization Ipsilateral","t":82,"v":-0.75,"lo":-0.88,"hi":-0.62},
{"condition":"Localization Ipsilateral","t":87,"v":-1.0,"lo":-1.13,"hi":-0.87},
{"condition":"Localization Ipsilateral","t":92,"v":-1.22,"lo":-1.35,"hi":-1.09},
{"condition":"Localization Ipsilateral","t":97,"v":-1.45,"lo":-1.58,"hi":-1.32},
{"condition":"Localization Ipsilateral","t":102,"v":-1.58,"lo":-1.71,"hi":-1.45},
{"condition":"Localization Ipsilateral","t":107,"v":-1.72,"lo":-1.87,"hi":-1.57},
{"condition":"Localization Ipsilateral","t":112,"v":-1.82,"lo":-1.97,"hi":-1.67},
{"condition":"Localization Ipsilateral","t":117,"v":-1.92,"lo":-2.07,"hi":-1.77},
{"condition":"Localization Ipsilateral","t":122,"v":-2.03,"lo":-2.18,"hi":-1.88},
{"condition":"Localization Ipsilateral","t":127,"v":-2.05,"lo":-2.2,"hi":-1.9},
{"condition":"Localization Ipsilateral","t":132,"v":-1.98,"lo":-2.13,"hi":-1.83},
{"condition":"Localization Ipsilateral","t":137,"v":-1.7,"lo":-1.85,"hi":-1.55},
{"condition":"Localization Ipsilateral","t":142,"v":-1.3,"lo":-1.43,"hi":-1.17},
{"condition":"Localization Ipsilateral","t":147,"v":-0.9,"lo":-1.03,"hi":-0.77},
{"condition":"Localization Ipsilateral","t":152,"v":-0.45,"lo":-0.58,"hi":-0.32},
{"condition":"Localization Ipsilateral","t":157,"v":0.0,"lo":-0.13,"hi":0.13},
{"condition":"Localization Ipsilateral","t":162,"v":0.45,"lo":0.35,"hi":0.55},
{"condition":"Localization Ipsilateral","t":167,"v":0.65,"lo":0.55,"hi":0.75},
{"condition":"Localization Ipsilateral","t":172,"v":0.62,"lo":0.52,"hi":0.72},
{"condition":"Localization Ipsilateral","t":177,"v":0.53,"lo":0.43,"hi":0.63},
{"condition":"Localization Ipsilateral","t":182,"v":0.52,"lo":0.42,"hi":0.62},
{"condition":"Localization Ipsilateral","t":187,"v":0.65,"lo":0.55,"hi":0.75},
{"condition":"Localization Ipsilateral","t":192,"v":0.85,"lo":0.75,"hi":0.95},
{"condition":"Localization Ipsilateral","t":197,"v":0.98,"lo":0.88,"hi":1.08},
{"condition":"Localization Ipsilateral","t":202,"v":1.02,"lo":0.92,"hi":1.12},
{"condition":"Localization Ipsilateral","t":207,"v":0.9,"lo":0.8,"hi":1.0},
{"condition":"Localization Ipsilateral","t":212,"v":0.82,"lo":0.72,"hi":0.92},
{"condition":"Localization Ipsilateral","t":217,"v":0.84,"lo":0.74,"hi":0.94},
{"condition":"Localization Ipsilateral","t":222,"v":0.82,"lo":0.72,"hi":0.92},
{"condition":"Localization Ipsilateral","t":227,"v":0.78,"lo":0.68,"hi":0.88},
{"condition":"Localization Ipsilateral","t":232,"v":0.68,"lo":0.58,"hi":0.78},
{"condition":"Localization Ipsilateral","t":237,"v":0.52,"lo":0.42,"hi":0.62},
{"condition":"Localization Ipsilateral","t":242,"v":0.33,"lo":0.23,"hi":0.43},
{"condition":"Localization Ipsilateral","t":247,"v":0.15,"lo":0.05,"hi":0.25},
{"condition":"Localization Ipsilateral","t":252,"v":0.04,"lo":-0.06,"hi":0.14},
{"condition":"Localization Ipsilateral","t":260,"v":-0.07,"lo":-0.15,"hi":0.01},
{"condition":"Localization Ipsilateral","t":270,"v":-0.12,"lo":-0.2,"hi":-0.04},
{"condition":"Localization Ipsilateral","t":290,"v":-0.16,"lo":-0.24,"hi":-0.08},
{"condition":"Localization Ipsilateral","t":310,"v":-0.13,"lo":-0.21,"hi":-0.05},
{"condition":"Localization Ipsilateral","t":330,"v":-0.1,"lo":-0.18,"hi":-0.02},
{"condition":"Localization Ipsilateral","t":350,"v":-0.05,"lo":-0.13,"hi":0.03},
{"condition":"Localization Ipsilateral","t":375,"v":-0.03,"lo":-0.11,"hi":0.05},
{"condition":"Localization Ipsilateral","t":400,"v":-0.05,"lo":-0.13,"hi":0.03},
{"condition":"Localization Ipsilateral","t":420,"v":-0.14,"lo":-0.22,"hi":-0.06},
{"condition":"Localization Ipsilateral","t":440,"v":-0.28,"lo":-0.36,"hi":-0.2},
{"condition":"Localization Ipsilateral","t":460,"v":-0.35,"lo":-0.43,"hi":-0.27},
{"condition":"Localization Ipsilateral","t":480,"v":-0.3,"lo":-0.38,"hi":-0.22},
{"condition":"Localization Ipsilateral","t":495,"v":-0.16,"lo":-0.24,"hi":-0.08}
]
},
"hconcat": [
{
 "width": 438, "height": 367,
 "layer": [
  {"data": {"name": "windows"}, "mark": {"type": "rect", "color": "#DDDDDD"},
   "encoding": {
    "x": {"field": "start", "type": "quantitative", "title": "Time (ms)", "scale": {"domain": [-124, 524], "nice": false, "zero": false}, "axis": {"values": [-100, 0, 100, 200, 300, 400, 500], "title": "Time (ms)", "labelBaseline": "alphabetic", "labelPadding": 32, "titlePadding": 29}},
    "x2": {"field": "end"},
    "y": {"field": "low", "type": "quantitative", "title": "ERP (µV)", "scale": {"domain": [-3.24, 3.24], "nice": false, "zero": false}, "axis": {"values": [-3, -2, -1, 0, 1, 2, 3], "title": "ERP (µV)", "labelAngle": -90, "labelAlign": "center", "labelBaseline": "alphabetic", "labelPadding": 16, "titlePadding": 26}},
    "y2": {"field": "high"}}},
  {"data": {"name": "erp_a"}, "mark": {"type": "area", "opacity": 0.3, "interpolate": "monotone"},
   "encoding": {
    "x": {"field": "t", "type": "quantitative", "title": "Time (ms)"},
    "y": {"field": "lo", "type": "quantitative", "title": "ERP (µV)"},
    "y2": {"field": "hi"},
    "fill": {"field": "condition", "type": "nominal", "scale": {"domain": ["Bisection Contralateral", "Bisection Ipsilateral", "Localization Contralateral", "Localization Ipsilateral"], "range": ["#0000FF", "#00FFFF", "#FF0000", "#FFA500"]},
     "legend": {"orient": "none", "legendX": 234, "legendY": 284, "title": null, "symbolType": "square", "symbolSize": 225, "symbolStrokeWidth": 0, "symbolOpacity": 1, "labelFontSize": 15.5, "labelFont": "Liberation Sans", "labelColor": "black", "labelLimit": 400, "labelExpr": "datum.label", "rowPadding": 3, "labelOffset": 6, "padding": 0}}}},
  {"data": {"name": "erp_a"}, "mark": {"type": "line", "strokeWidth": 1.8, "interpolate": "monotone"},
   "encoding": {
    "x": {"field": "t", "type": "quantitative", "title": "Time (ms)"},
    "y": {"field": "v", "type": "quantitative", "title": "ERP (µV)"},
    "stroke": {"field": "condition", "type": "nominal", "scale": {"domain": ["Bisection Contralateral", "Bisection Ipsilateral", "Localization Contralateral", "Localization Ipsilateral"], "range": ["#0000FF", "#00FFFF", "#FF0000", "#FFA500"]}, "legend": null}}},
  {"data": {"values": [{}]}, "mark": {"type": "rule", "color": "#333333", "strokeWidth": 1.2, "strokeDash": [7, 5]}, "encoding": {"x": {"datum": 0}}},
  {"data": {"values": [{}]}, "mark": {"type": "rule", "color": "#333333", "strokeWidth": 1.2, "strokeDash": [7, 5]}, "encoding": {"y": {"datum": 0}}},
  {"data": {"values": [{}]}, "mark": {"type": "rule", "color": "black", "strokeWidth": 1}, "encoding": {"x": {"datum": -100}, "x2": {"datum": 500}, "y": {"datum": -3.24}}},
  {"data": {"values": [{}]}, "mark": {"type": "rule", "color": "black", "strokeWidth": 1}, "encoding": {"x": {"datum": -124}, "y": {"datum": -3}, "y2": {"datum": 3}}},
  {"data": {"values": [{}]}, "mark": {"type": "text", "text": "a)", "fontSize": 21, "fontWeight": "bold", "align": "left", "baseline": "alphabetic", "color": "black", "font": "Liberation Sans"}, "encoding": {"x": {"datum": -245}, "y": {"datum": 4.21}}},
  {"data": {"values": [{}]}, "mark": {"type": "text", "text": "temporal electrodes", "fontSize": 23, "fontWeight": "bold", "align": "center", "baseline": "alphabetic", "color": "black", "font": "Liberation Sans"}, "encoding": {"x": {"datum": 200}, "y": {"datum": 3.81}}}
 ]
},
{
 "width": 438, "height": 367,
 "layer": [
  {"data": {"name": "windows"}, "mark": {"type": "rect", "color": "#DDDDDD"},
   "encoding": {
    "x": {"field": "start", "type": "quantitative", "title": "Time (ms)", "scale": {"domain": [-124, 524], "nice": false, "zero": false}, "axis": {"values": [-100, 0, 100, 200, 300, 400, 500], "title": "Time (ms)", "labelBaseline": "alphabetic", "labelPadding": 32, "titlePadding": 29}},
    "x2": {"field": "end"},
    "y": {"field": "low", "type": "quantitative", "title": "ERP (µV)", "scale": {"domain": [-3.24, 3.24], "nice": false, "zero": false}, "axis": {"values": [-3, -2, -1, 0, 1, 2, 3], "title": "ERP (µV)", "labelAngle": -90, "labelAlign": "center", "labelBaseline": "alphabetic", "labelPadding": 16, "titlePadding": 26}},
    "y2": {"field": "high"}}},
  {"data": {"name": "erp_b"}, "mark": {"type": "area", "opacity": 0.3, "interpolate": "monotone"},
   "encoding": {
    "x": {"field": "t", "type": "quantitative", "title": "Time (ms)"},
    "y": {"field": "lo", "type": "quantitative", "title": "ERP (µV)"},
    "y2": {"field": "hi"},
    "fill": {"field": "condition", "type": "nominal", "scale": {"domain": ["Bisection Contralateral", "Bisection Ipsilateral", "Localization Contralateral", "Localization Ipsilateral"], "range": ["#0000FF", "#00FFFF", "#FF0000", "#FFA500"]},
     "legend": {"orient": "none", "legendX": 234, "legendY": 284, "title": null, "symbolType": "square", "symbolSize": 225, "symbolStrokeWidth": 0, "symbolOpacity": 1, "labelFontSize": 15.5, "labelFont": "Liberation Sans", "labelColor": "black", "labelLimit": 400, "labelExpr": "datum.label", "rowPadding": 3, "labelOffset": 6, "padding": 0}}}},
  {"data": {"name": "erp_b"}, "mark": {"type": "line", "strokeWidth": 1.8, "interpolate": "monotone"},
   "encoding": {
    "x": {"field": "t", "type": "quantitative", "title": "Time (ms)"},
    "y": {"field": "v", "type": "quantitative", "title": "ERP (µV)"},
    "stroke": {"field": "condition", "type": "nominal", "scale": {"domain": ["Bisection Contralateral", "Bisection Ipsilateral", "Localization Contralateral", "Localization Ipsilateral"], "range": ["#0000FF", "#00FFFF", "#FF0000", "#FFA500"]}, "legend": null}}},
  {"data": {"values": [{}]}, "mark": {"type": "rule", "color": "#333333", "strokeWidth": 1.2, "strokeDash": [7, 5]}, "encoding": {"x": {"datum": 0}}},
  {"data": {"values": [{}]}, "mark": {"type": "rule", "color": "#333333", "strokeWidth": 1.2, "strokeDash": [7, 5]}, "encoding": {"y": {"datum": 0}}},
  {"data": {"values": [{}]}, "mark": {"type": "rule", "color": "black", "strokeWidth": 1}, "encoding": {"x": {"datum": -100}, "x2": {"datum": 500}, "y": {"datum": -3.24}}},
  {"data": {"values": [{}]}, "mark": {"type": "rule", "color": "black", "strokeWidth": 1}, "encoding": {"x": {"datum": -124}, "y": {"datum": -3}, "y2": {"datum": 3}}},
  {"data": {"values": [{}]}, "mark": {"type": "text", "text": "b)", "fontSize": 21, "fontWeight": "bold", "align": "left", "baseline": "alphabetic", "color": "black", "font": "Liberation Sans"}, "encoding": {"x": {"datum": -241}, "y": {"datum": 4.21}}},
  {"data": {"values": [{}]}, "mark": {"type": "text", "text": "central electrodes", "fontSize": 23, "fontWeight": "bold", "align": "center", "baseline": "alphabetic", "color": "black", "font": "Liberation Sans"}, "encoding": {"x": {"datum": 200}, "y": {"datum": 3.81}}}
 ]
}
],
"spacing": 143.5,
"bounds": "flush",
"resolve": {"scale": {"fill": "independent", "stroke": "independent"}, "legend": {"fill": "independent"}}
}
